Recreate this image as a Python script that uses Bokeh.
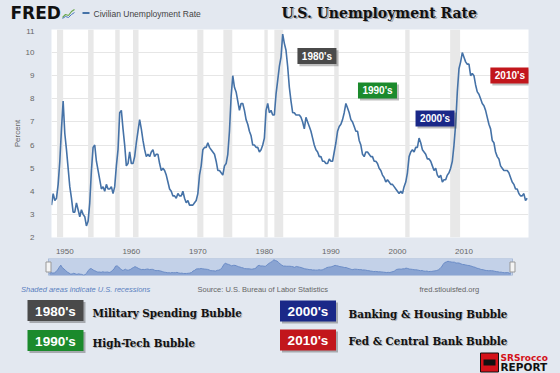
import numpy as np
from bokeh.plotting import figure
from bokeh.layouts import column
from bokeh.models import Range1d, FixedTicker
from bokeh.core.properties import value
from bokeh.embed import file_html
from bokeh.resources import INLINE

# ---------------- data ----------------
start_year = 1948
# quarterly civilian unemployment rate (%)
unrate_1940s = [3.4, 3.9, 3.6, 3.7, 4.3, 5.3, 6.7, 7.9]
unrate_1950s = [6.5, 5.8, 5.0, 4.2, 3.7, 3.1, 3.1, 3.5, 3.2, 2.9, 3.2, 3.0,
                2.9, 2.5, 2.7, 3.5, 4.9, 5.9, 6.0, 5.3, 4.9, 4.5, 4.1, 4.2,
                4.0, 4.3, 4.1, 4.1, 4.2, 3.9, 4.2, 5.1, 5.8, 7.4, 7.5, 6.7,
                6.0, 5.1, 5.2, 5.7]
unrate_1960s = [5.2, 5.2, 5.5, 6.1, 6.6, 7.1, 6.7, 6.2, 5.8, 5.5, 5.6, 5.5,
                5.7, 5.8, 5.5, 5.6, 5.6, 5.2, 4.9, 5.0, 4.9, 4.7, 4.4, 4.1,
                4.0, 3.8, 3.8, 3.7, 3.9, 3.8, 3.8, 4.0, 3.7, 3.5, 3.6, 3.4,
                3.4, 3.4, 3.5, 3.6]
unrate_1970s = [3.9, 4.7, 5.1, 5.8, 5.9, 5.9, 6.1, 5.9, 5.8, 5.7, 5.6, 5.3,
                4.9, 4.9, 4.8, 4.7, 5.1, 5.2, 5.6, 6.6, 8.1, 9.0, 8.5, 8.3,
                7.9, 7.5, 7.8, 7.8, 7.5, 7.1, 6.9, 6.6, 6.4, 6.0, 6.0, 5.9,
                5.9, 5.7, 5.8, 6.0]
unrate_1980s = [6.3, 7.5, 7.8, 7.4, 7.5, 7.3, 7.3, 8.2, 8.8, 9.4, 9.8, 10.8,
                10.4, 10.1, 9.4, 8.5, 7.9, 7.4, 7.4, 7.3, 7.3, 7.3, 7.2, 7.0,
                6.7, 7.2, 7.0, 6.8, 6.6, 6.3, 6.0, 5.8, 5.7, 5.5, 5.5, 5.3,
                5.3, 5.2, 5.2, 5.4]
unrate_1990s = [5.3, 5.3, 5.7, 6.1, 6.6, 6.8, 6.9, 7.1, 7.4, 7.8, 7.6, 7.4,
                7.1, 7.0, 6.8, 6.6, 6.6, 6.2, 6.0, 5.6, 5.5, 5.7, 5.7, 5.6,
                5.5, 5.5, 5.3, 5.3, 5.2, 5.0, 4.9, 4.7, 4.6, 4.4, 4.5, 4.4,
                4.3, 4.3, 4.2, 4.1]
unrate_2000s = [4.0, 3.9, 4.0, 3.9, 4.2, 4.4, 4.8, 5.5, 5.7, 5.8, 5.7, 5.9,
                5.9, 6.3, 6.1, 5.8, 5.7, 5.6, 5.4, 5.4, 5.3, 5.1, 4.9, 5.0,
                4.7, 4.6, 4.7, 4.4, 4.5, 4.5, 4.7, 4.8, 5.0, 5.3, 6.0, 6.9,
                8.3, 9.3, 9.6, 10.0]
unrate_2010s = [9.8, 9.6, 9.5, 9.5, 9.0, 9.1, 9.0, 8.6, 8.3, 8.2, 8.0, 7.8,
                7.7, 7.5, 7.2, 6.9, 6.7, 6.2, 6.1, 5.7, 5.5, 5.4, 5.1, 5.0,
                4.9, 4.9, 4.9, 4.8, 4.6, 4.4, 4.3, 4.1, 4.1, 3.9, 3.8, 3.8,
                3.9, 3.6, 3.7]
unrate = (unrate_1940s + unrate_1950s + unrate_1960s + unrate_1970s +
          unrate_1980s + unrate_1990s + unrate_2000s + unrate_2010s)
dates = start_year + 0.25 * np.arange(len(unrate))

# NBER recessions (shaded)
rec_start = [1948.83, 1953.50, 1957.58, 1960.25, 1969.92, 1973.83,
             1980.00, 1981.50, 1990.50, 2001.17, 2007.92]
rec_end = [1949.75, 1954.33, 1958.25, 1961.08, 1970.83, 1975.17,
           1980.50, 1982.83, 1991.17, 2001.83, 2009.42]

y_ticks = [2, 3, 4, 5, 6, 7, 8, 9, 10, 11]
x_ticks = [1950, 1960, 1970, 1980, 1990, 2000, 2010]

decades = ["1980's", "1990's", "2000's", "2010's"]
decade_colors = ["#4a4a4a", "#1b8a2c", "#1a2888", "#c2161c"]
bubbles = ["Military Spending Bubble", "High-Tech Bubble",
           "Banking & Housing Bubble", "Fed & Central Bank Bubble"]

# ---------------- styling / layout ----------------
BG = "#e3e8f0"
W = 560
SANS = value("Liberation Sans")
SLAB = value("DejaVu Serif Condensed, DejaVu Serif")


def canvas(h):
    f = figure(width=W, height=h, x_range=Range1d(0, W), y_range=Range1d(h, 0),
               x_axis_type=None, y_axis_type=None, min_border=0, frame_align=False,
               output_backend="svg", toolbar_location=None)
    f.grid.visible = False
    f.outline_line_color = None
    f.background_fill_color = BG
    f.border_fill_color = BG
    return f


# header
hdr = canvas(28)
hdr.text(x=[10], y=[12.5], text=["FRED"], text_font=value("DejaVu Sans"), text_font_style="bold",
         text_font_size="17px", text_color="#111111", text_baseline="middle")
hdr.line(x=[62, 65, 68, 71, 74], y=[17, 14, 15, 11, 9], line_color="#6aa84f", line_width=1.2)
hdr.line(x=[62, 65, 68, 71, 74], y=[18, 16, 17, 14, 12], line_color="#4a78c0", line_width=1)
hdr.line(x=[82, 89], y=[12.5, 12.5], line_color="#4572a7", line_width=2)
hdr.text(x=[93], y=[13], text=["Civilian Unemployment Rate"], text_font=SANS,
         text_font_size="8.5px", text_color="#444444", text_baseline="middle")
hdr.text(x=[282.5], y=[13.5], text=["U.S. Unemployment Rate"], text_font=value("DejaVu Serif"),
         text_font_style="bold", text_font_size="14px", text_color="#777777", text_alpha=0.6,
         text_baseline="middle")
hdr.text(x=[281], y=[12], text=["U.S. Unemployment Rate"], text_font=value("DejaVu Serif"),
         text_font_style="bold", text_font_size="14px", text_color="#111111",
         text_baseline="middle")

# main chart
p = figure(width=W, height=228, x_range=Range1d(1948.0, 2019.7), y_range=Range1d(2, 11),
           min_border_left=51, min_border_right=32, min_border_top=1, min_border_bottom=19,
           frame_align=False, output_backend="svg", toolbar_location=None)
p.background_fill_color = "white"
p.border_fill_color = BG
p.outline_line_color = None
p.xgrid.grid_line_color = None
p.ygrid.grid_line_color = "#e6e6e6"
p.quad(left=rec_start, right=rec_end, bottom=2, top=11, fill_color="#e8e8e8", line_color=None)
p.line(dates, unrate, line_color="#4572a7", line_width=1.6)
p.yaxis.ticker = FixedTicker(ticks=y_ticks)
p.xaxis.ticker = FixedTicker(ticks=x_ticks)
for ax in p.axis:
    ax.axis_line_color = None
    ax.major_tick_line_color = None
    ax.minor_tick_line_color = None
    ax.major_label_text_color = "#666666"
    ax.major_label_text_font = "Liberation Sans"
    ax.major_label_text_font_size = "8px"
p.yaxis.major_label_standoff = 11
p.xaxis.major_label_standoff = 5
p.yaxis.axis_label = "Percent"
p.yaxis.axis_label_text_font = "Liberation Sans"
p.yaxis.axis_label_text_font_style = "normal"
p.yaxis.axis_label_text_font_size = "8px"
p.yaxis.axis_label_text_color = "#666666"
p.yaxis.axis_label_standoff = 1

tag_x = np.array([1987.9, 1997.0, 2005.65, 2016.9])
tag_y = np.array([9.85, 8.36, 7.15, 9.01])
p.rect(x=tag_x + 0.3, y=tag_y - 0.09, width=39, height=16, width_units="screen",
       height_units="screen", fill_color="#444444", fill_alpha=0.35, line_color=None)
p.rect(x=tag_x, y=tag_y, width=39, height=16, width_units="screen", height_units="screen",
       fill_color=decade_colors, line_color=None)
p.text(x=tag_x, y=tag_y, text=decades, text_color="white", text_font=SANS,
       text_font_style="bold", text_font_size="10px", text_align="center", text_baseline="middle")

# navigator
nav = figure(width=W, height=22, x_range=Range1d(1947.225, 2020.375), y_range=Range1d(2.3, 11.5),
             min_border_left=44, min_border_right=44, min_border_top=2, min_border_bottom=3,
             x_axis_type=None, y_axis_type=None, frame_align=False,
             output_backend="svg", toolbar_location=None)
nav.grid.visible = False
nav.outline_line_color = None
nav.background_fill_color = BG
nav.border_fill_color = BG
nav.quad(left=[1947.845], right=[2019.755], bottom=[2.3], top=[11.5], fill_color="#c3d1e8",
         line_color="#a9bbd8")
nav.varea(x=dates, y1=2.3, y2=unrate, fill_color="#8aa4d2")
nav.line(dates, unrate, line_color="#6b8cc6", line_width=1)
nav.rect(x=[1947.845, 2019.755], y=[6.9, 6.9], width=5, height=10, width_units="screen",
         height_units="screen", fill_color="#f4f4f4", line_color="#999999")

# footer + legend
ft = canvas(95)
ft.text(x=[20.5], y=[11], text=["Shaded areas indicate U.S. recessions"], text_font=SANS,
        text_font_style="italic", text_font_size="7.5px", text_color="#5a7fbf", text_baseline="middle")
ft.text(x=[197], y=[11], text=["Source: U.S. Bureau of Labor Statistics"], text_font=SANS,
        text_font_size="7.5px", text_color="#666666", text_baseline="middle")
ft.text(x=[419], y=[11], text=["fred.stlouisfed.org"], text_font=SANS,
        text_font_size="7.5px", text_color="#666666", text_baseline="middle")
box_x = np.array([55, 55, 307.5, 307.5])
box_y = np.array([32, 62, 32.5, 61.5])
name_x = np.array([92, 92, 348, 348])
name_y = np.array([34, 64, 35, 62])
ft.rect(x=box_x + 2, y=box_y + 2, width=56, height=21, fill_color="#333333", fill_alpha=0.35,
        line_color=None)
ft.rect(x=box_x, y=box_y, width=56, height=21, fill_color=decade_colors, line_color=None)
ft.text(x=box_x, y=box_y + 0.5, text=decades, text_color="white", text_font=SANS,
        text_font_style="bold", text_font_size="13.5px", text_align="center", text_baseline="middle")
ft.text(x=name_x + 1, y=name_y + 1, text=bubbles, text_color="#777777", text_alpha=0.5, text_font=SLAB,
        text_font_style="bold", text_font_size="11.5px", text_baseline="middle")
ft.text(x=name_x, y=name_y, text=bubbles, text_color="#111111", text_font=SLAB,
        text_font_style="bold", text_font_size="11.5px", text_baseline="middle")
# SRSrocco REPORT badge
ft.rect(x=[489], y=[84], width=18, height=19, fill_color="#d4121a", line_color="#111111")
ft.rect(x=[489], y=[84], width=12, height=6, fill_color="#111111", line_color=None)
ft.text(x=[500], y=[79], text=["SRSrocco"], text_color="#d4121a", text_font=value("DejaVu Sans"),
        text_font_style="bold", text_font_size="9px", text_baseline="middle")
ft.text(x=[500], y=[88.5], text=["REPORT"], text_color="#111111", text_font=value("DejaVu Sans"),
        text_font_style="bold", text_font_size="10.5px", text_baseline="middle")

layout = column(hdr, p, nav, ft, spacing=0)
html = file_html(layout, INLINE)
html = html.replace("</head>",
                    "<style>html,body{margin:0;padding:0;background-color:#e3e8f0;}</style></head>", 1)
open("out.html", "w").write(html)
